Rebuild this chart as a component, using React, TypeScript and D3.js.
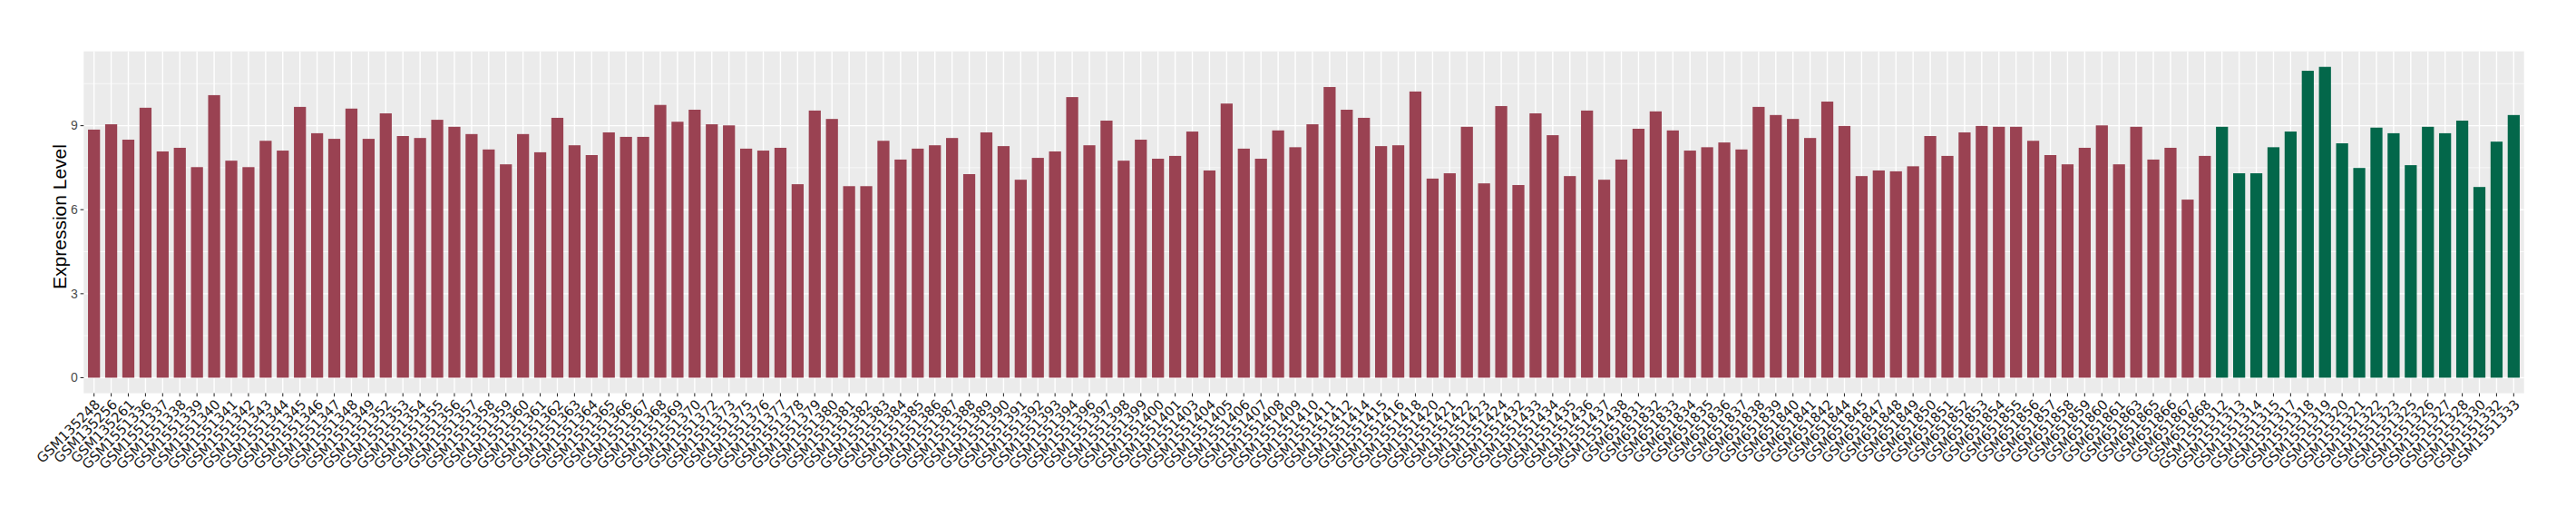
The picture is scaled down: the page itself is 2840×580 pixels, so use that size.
import React, { useEffect, useRef } from "react";
import * as d3 from "d3";

const redSamples = [
  "GSM135248","GSM135256","GSM135261","GSM1551336","GSM1551337","GSM1551338","GSM1551339","GSM1551340",
  "GSM1551341","GSM1551342","GSM1551343","GSM1551344","GSM1551345","GSM1551346","GSM1551347","GSM1551348",
  "GSM1551349","GSM1551352","GSM1551353","GSM1551354","GSM1551355","GSM1551356","GSM1551357","GSM1551358",
  "GSM1551359","GSM1551360","GSM1551361","GSM1551362","GSM1551363","GSM1551364","GSM1551365","GSM1551366",
  "GSM1551367","GSM1551368","GSM1551369","GSM1551370","GSM1551372","GSM1551373","GSM1551375","GSM1551376",
  "GSM1551377","GSM1551378","GSM1551379","GSM1551380","GSM1551381","GSM1551382","GSM1551383","GSM1551384",
  "GSM1551385","GSM1551386","GSM1551387","GSM1551388","GSM1551389","GSM1551390","GSM1551391","GSM1551392",
  "GSM1551393","GSM1551394","GSM1551396","GSM1551397","GSM1551398","GSM1551399","GSM1551400","GSM1551401",
  "GSM1551403","GSM1551404","GSM1551405","GSM1551406","GSM1551407","GSM1551408","GSM1551409","GSM1551410",
  "GSM1551411","GSM1551412","GSM1551414","GSM1551415","GSM1551416","GSM1551418","GSM1551420","GSM1551421",
  "GSM1551422","GSM1551423","GSM1551424","GSM1551432","GSM1551433","GSM1551434","GSM1551435","GSM1551436",
  "GSM1551437","GSM1551438","GSM651831","GSM651832","GSM651833","GSM651834","GSM651835","GSM651836",
  "GSM651837","GSM651838","GSM651839","GSM651840","GSM651841","GSM651842","GSM651844","GSM651845",
  "GSM651847","GSM651848","GSM651849","GSM651850","GSM651851","GSM651852","GSM651853","GSM651854",
  "GSM651855","GSM651856","GSM651857","GSM651858","GSM651859","GSM651860","GSM651861","GSM651863",
  "GSM651865","GSM651866","GSM651867","GSM651868"
];

const redValues = [
  8.86, 9.05, 8.50, 9.64, 8.08, 8.21, 7.52, 10.09,
  7.75, 7.52, 8.46, 8.11, 9.67, 8.73, 8.53, 9.61,
  8.53, 9.44, 8.63, 8.56, 9.21, 8.96, 8.70, 8.15,
  7.62, 8.70, 8.05, 9.28, 8.30, 7.95, 8.76, 8.60,
  8.60, 9.74, 9.14, 9.57, 9.05, 9.01, 8.18, 8.11,
  8.21, 6.91, 9.54, 9.24, 6.84, 6.84, 8.46, 7.79,
  8.18, 8.30, 8.56, 7.27, 8.76, 8.27, 7.07, 7.85,
  8.08, 10.02, 8.30, 9.18, 7.75, 8.50, 7.82, 7.92,
  8.79, 7.40, 9.79, 8.18, 7.82, 8.83, 8.23, 9.05,
  10.38, 9.57, 9.28, 8.27, 8.30, 10.22, 7.11, 7.30,
  8.96, 6.94, 9.70, 6.88, 9.44, 8.66, 7.20, 9.54,
  7.07, 7.79, 8.89, 9.51, 8.83, 8.11, 8.23, 8.40,
  8.15, 9.67, 9.38, 9.24, 8.56, 9.86, 8.99, 7.20,
  7.40, 7.37, 7.55, 8.63, 7.92, 8.76, 8.99, 8.96,
  8.96, 8.46, 7.95, 7.62, 8.21, 9.01, 7.62, 8.96,
  7.79, 8.21, 6.36, 7.92
];

const greenSamples = [
  "GSM1551312","GSM1551313","GSM1551314","GSM1551315","GSM1551317","GSM1551318","GSM1551319","GSM1551320",
  "GSM1551321","GSM1551322","GSM1551323","GSM1551325","GSM1551326","GSM1551327","GSM1551328","GSM1551330",
  "GSM1551332","GSM1551333"
];

const greenValues = [
  8.96, 7.30, 7.30, 8.23, 8.79, 10.96, 11.10, 8.37,
  7.49, 8.93, 8.73, 7.59, 8.96, 8.73, 9.18, 6.81,
  8.43, 9.38
];

const yTicks = [0, 3, 6, 9];
const yMinor = [1.5, 4.5, 7.5, 10.5];
const yTitle = "Expression Level";

const RED = "#9A4252";
const GREEN = "#03674A";

export default function App() {
  const ref = useRef<SVGSVGElement | null>(null);

  useEffect(() => {
    document.body.style.margin = "0";
    const W = 2840, H = 580;
    const left = 92.3, right = 2782.7, top = 56.6, bottom = 433.6;

    const data = [
      ...redSamples.map((s, i) => ({ s, v: redValues[i], c: RED })),
      ...greenSamples.map((s, i) => ({ s, v: greenValues[i], c: GREEN })),
    ];

    const svg = d3.select(ref.current);
    svg.selectAll("*").remove();
    svg.attr("width", W).attr("height", H);

    const x = d3.scaleBand<string>()
      .domain(data.map(d => d.s))
      .range([left, right])
      .paddingInner(0.3)
      .paddingOuter(0.25);

    const maxV = d3.max(data, d => d.v) as number;
    const pad = maxV * 0.05;
    const y = d3.scaleLinear().domain([-pad, maxV + pad]).range([bottom, top]);
    const cx = (s: string) => (x(s) as number) + x.bandwidth() / 2;

    svg.append("rect").attr("x", 0).attr("y", 0).attr("width", W).attr("height", H).attr("fill", "#ffffff");
    svg.append("rect")
      .attr("x", left).attr("y", top)
      .attr("width", right - left).attr("height", bottom - top)
      .attr("fill", "#EBEBEB");

    const g = svg.append("g");
    g.selectAll("line.minor").data(yMinor).enter().append("line")
      .attr("x1", left).attr("x2", right)
      .attr("y1", d => y(d)).attr("y2", d => y(d))
      .attr("stroke", "#ffffff").attr("stroke-width", 0.7);
    g.selectAll("line.major").data(yTicks).enter().append("line")
      .attr("x1", left).attr("x2", right)
      .attr("y1", d => y(d)).attr("y2", d => y(d))
      .attr("stroke", "#ffffff").attr("stroke-width", 1.4);
    g.selectAll("line.vmajor").data(data).enter().append("line")
      .attr("x1", d => cx(d.s)).attr("x2", d => cx(d.s))
      .attr("y1", top).attr("y2", bottom)
      .attr("stroke", "#ffffff").attr("stroke-width", 1.4);

    svg.append("g").selectAll("rect").data(data).enter().append("rect")
      .attr("x", d => x(d.s) as number)
      .attr("width", x.bandwidth())
      .attr("y", d => y(d.v))
      .attr("height", d => y(0) - y(d.v))
      .attr("fill", d => d.c);

    const ya = svg.append("g");
    ya.selectAll("line").data(yTicks).enter().append("line")
      .attr("x1", left - 3.7).attr("x2", left)
      .attr("y1", d => y(d)).attr("y2", d => y(d))
      .attr("stroke", "#333333").attr("stroke-width", 1.1);
    ya.selectAll("text").data(yTicks).enter().append("text")
      .attr("x", left - 6.5).attr("y", d => y(d))
      .attr("dy", "0.35em")
      .attr("text-anchor", "end")
      .attr("font-family", "'Liberation Sans', Arial, sans-serif")
      .attr("font-size", 14)
      .attr("fill", "#4D4D4D")
      .text(d => String(d));

    const xa = svg.append("g");
    xa.selectAll("line").data(data).enter().append("line")
      .attr("x1", d => cx(d.s)).attr("x2", d => cx(d.s))
      .attr("y1", bottom).attr("y2", bottom + 3.7)
      .attr("stroke", "#333333").attr("stroke-width", 1.1);
    xa.selectAll("text").data(data).enter().append("text")
      .attr("transform", d => `translate(${cx(d.s) + 7.7},${447}) rotate(-45)`)
      .attr("text-anchor", "end")
      .attr("font-family", "'DejaVu Sans', sans-serif")
      .attr("font-size", 15)
      .attr("fill", "#1a1a1a")
      .text(d => d.s);

    svg.append("text")
      .attr("transform", `translate(72.7,239) rotate(-90)`)
      .attr("text-anchor", "middle")
      .attr("font-family", "'Liberation Sans', Arial, sans-serif")
      .attr("font-size", 21)
      .attr("fill", "#000000")
      .text(yTitle);
  }, []);

  return <svg ref={ref} style={{ display: "block" }} />;
}
